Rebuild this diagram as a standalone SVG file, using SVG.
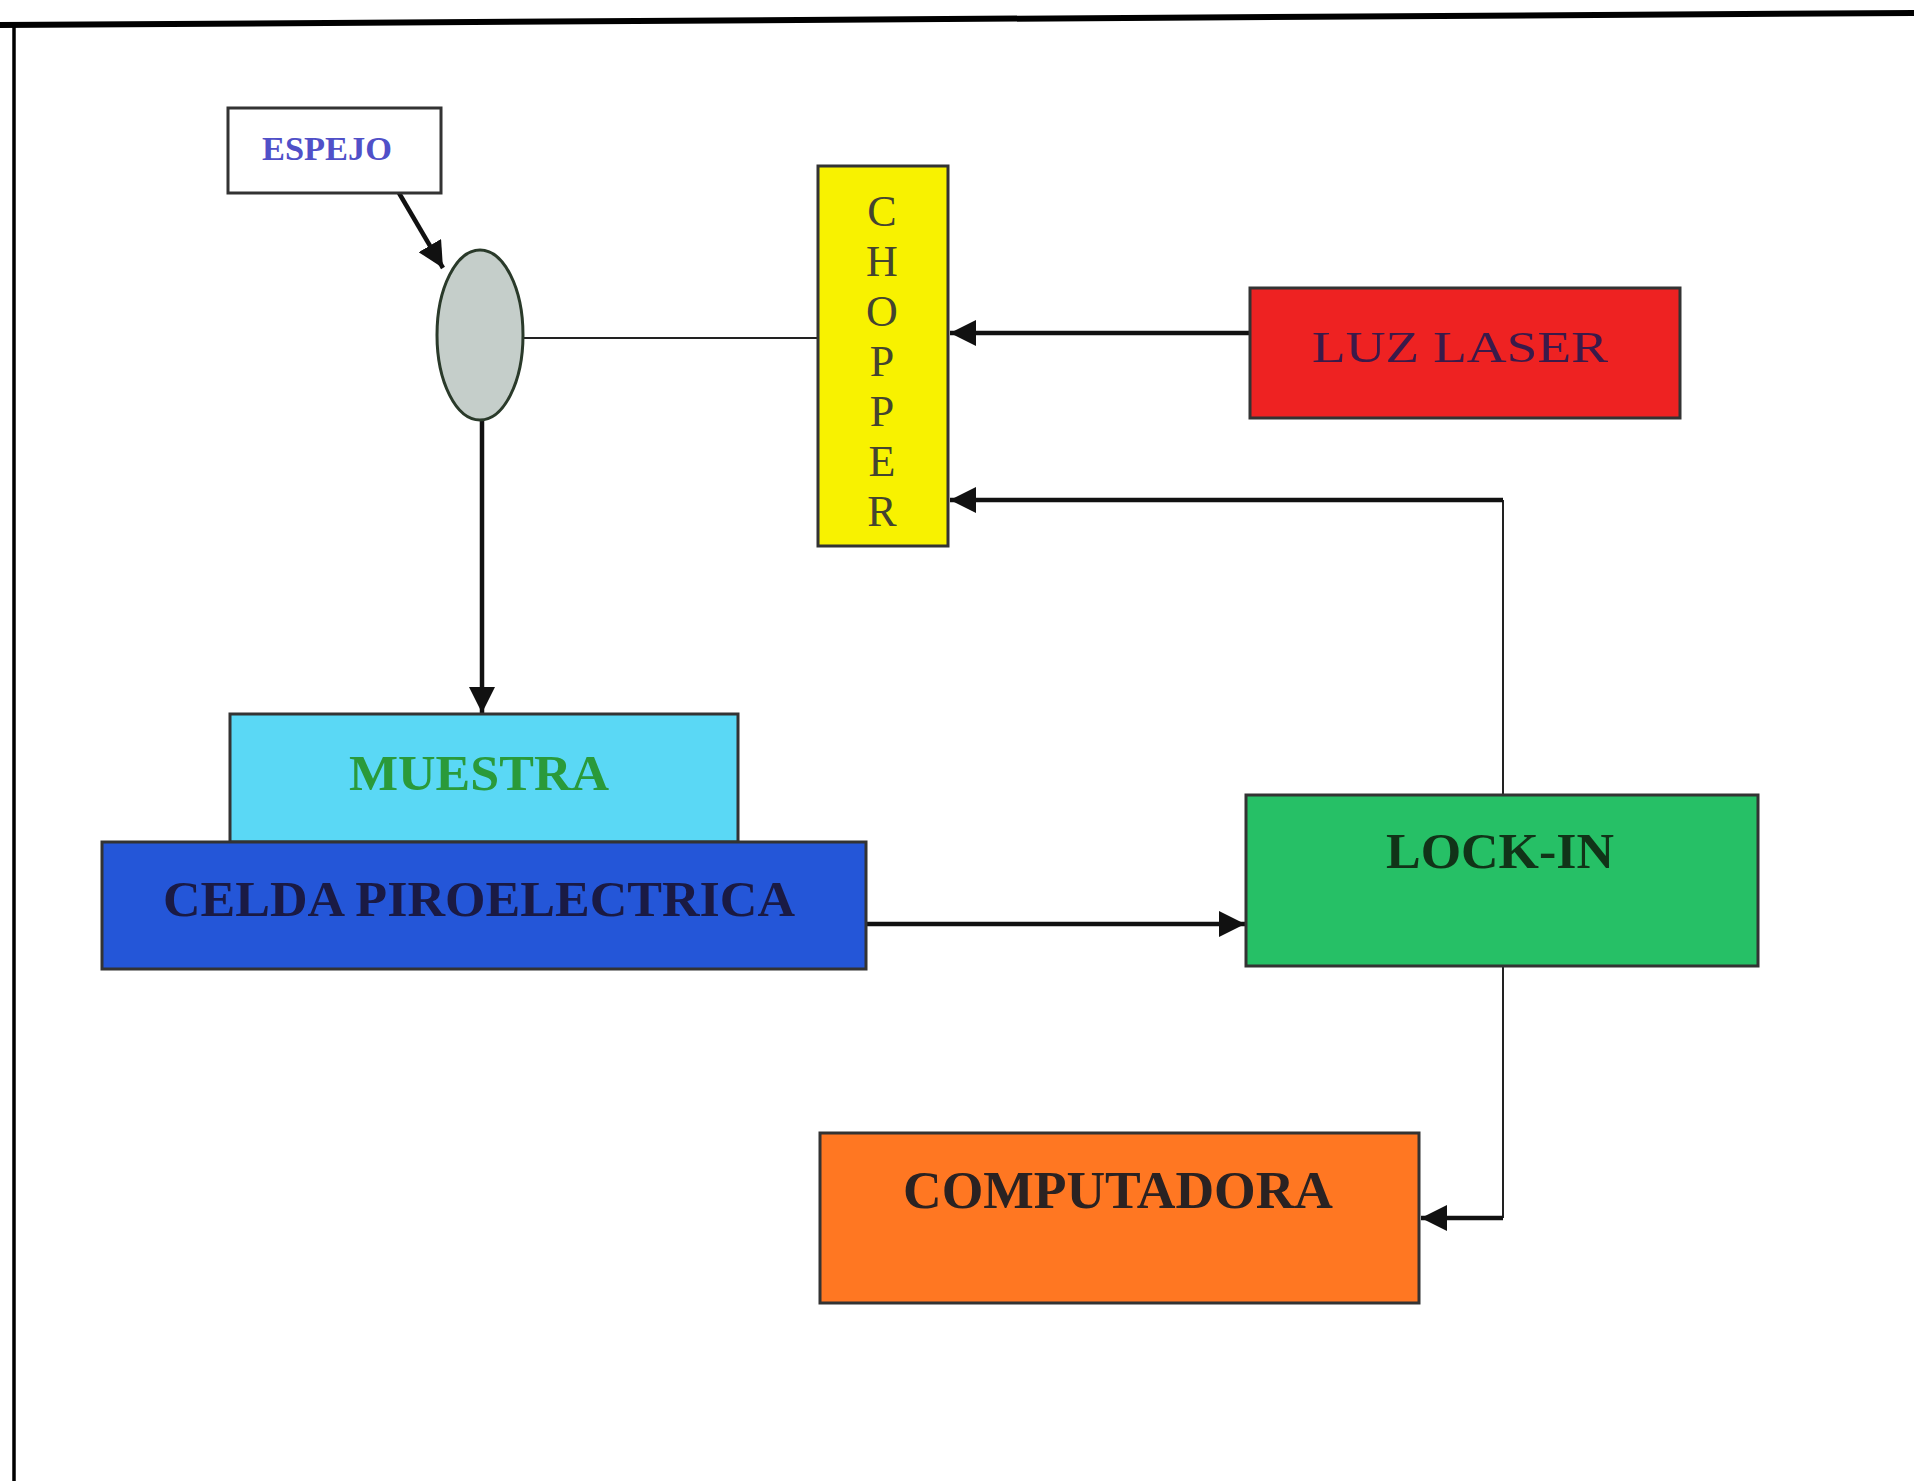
<svg xmlns="http://www.w3.org/2000/svg" width="1914" height="1481" viewBox="0 0 1914 1481">
<style>
.box{stroke:#333;stroke-width:3}
.lbl{font-family:"Liberation Serif","Times New Roman",serif;text-anchor:middle}
.b{font-weight:bold}
.thin{stroke:#222;stroke-width:2;fill:none}
.thick{stroke:#111;stroke-width:4.5;fill:none}
</style>
<defs>
<marker id="ah" markerUnits="userSpaceOnUse" markerWidth="28" markerHeight="26" refX="26" refY="13" orient="auto">
<path d="M0,0 L26,13 L0,26 Z" fill="#111"/>
</marker>
</defs>
<rect width="1914" height="1481" fill="#fff"/>
<g id="frame">
<path d="M0,25 L1914,13" stroke="#000" stroke-width="6"/>
<path d="M14,24 L14,1481" stroke="#000" stroke-width="3.5"/>
</g>
<g id="connectors">
<path class="thick" d="M399,193 L443,268" marker-end="url(#ah)"/>
<path class="thin" d="M523,338 L818,338"/>
<path class="thick" d="M1250,333 L950,333" marker-end="url(#ah)"/>
<path class="thin" d="M1503,795 L1503,500"/>
<path class="thick" d="M1503,500 L950,500" marker-end="url(#ah)"/>
<path class="thick" d="M482,419 L482,713" marker-end="url(#ah)"/>
<path class="thick" d="M866,924 L1245,924" marker-end="url(#ah)"/>
<path class="thin" d="M1503,966 L1503,1218"/>
<path class="thick" d="M1503,1218 L1421,1218" stroke-width="3" marker-end="url(#ah)"/>
</g>
<g id="espejo">
<rect class="box" x="228" y="108" width="213" height="85" fill="#fff"/>
<text class="lbl b" x="327" y="160" font-size="34" fill="#5050c8" textLength="130" lengthAdjust="spacingAndGlyphs">ESPEJO</text>
</g>
<g id="mirror">
<ellipse cx="480" cy="335" rx="43" ry="85" fill="#c5ceca" stroke="#2a3a2a" stroke-width="3"/>
</g>
<g id="chopper">
<rect class="box" x="818" y="166" width="130" height="380" fill="#f8f200" stroke="#555522"/>
<text class="lbl" x="882" font-size="44" fill="#444430">
<tspan x="882" y="226">C</tspan><tspan x="882" y="276">H</tspan><tspan x="882" y="326">O</tspan><tspan x="882" y="376">P</tspan><tspan x="882" y="426">P</tspan><tspan x="882" y="476">E</tspan><tspan x="882" y="526">R</tspan>
</text>
</g>
<g id="laser">
<rect class="box" x="1250" y="288" width="430" height="130" fill="#ee2222"/>
<text class="lbl" x="1460" y="362" font-size="44" fill="#3a1a4a" textLength="296" lengthAdjust="spacingAndGlyphs">LUZ LASER</text>
</g>
<g id="muestra">
<rect class="box" x="230" y="714" width="508" height="128" fill="#5ad8f5" stroke="#225577"/>
<text class="lbl b" x="479" y="790" font-size="50" fill="#2a9a3a" textLength="260" lengthAdjust="spacingAndGlyphs">MUESTRA</text>
</g>
<g id="celda">
<rect class="box" x="102" y="842" width="764" height="127" fill="#2456d8" stroke="#1a2a66"/>
<text class="lbl b" x="479" y="916" font-size="50" fill="#1a1a44" textLength="632" lengthAdjust="spacingAndGlyphs">CELDA PIROELECTRICA</text>
</g>
<g id="lockin">
<rect class="box" x="1246" y="795" width="512" height="171" fill="#26c066"/>
<text class="lbl b" x="1500" y="868" font-size="50" fill="#113318" textLength="228" lengthAdjust="spacingAndGlyphs">LOCK-IN</text>
</g>
<g id="computadora">
<rect class="box" x="820" y="1133" width="599" height="170" fill="#ff7722" stroke="#443322"/>
<text class="lbl b" x="1118" y="1208" font-size="52" fill="#2a2222" textLength="430" lengthAdjust="spacingAndGlyphs">COMPUTADORA</text>
</g>
</svg>
